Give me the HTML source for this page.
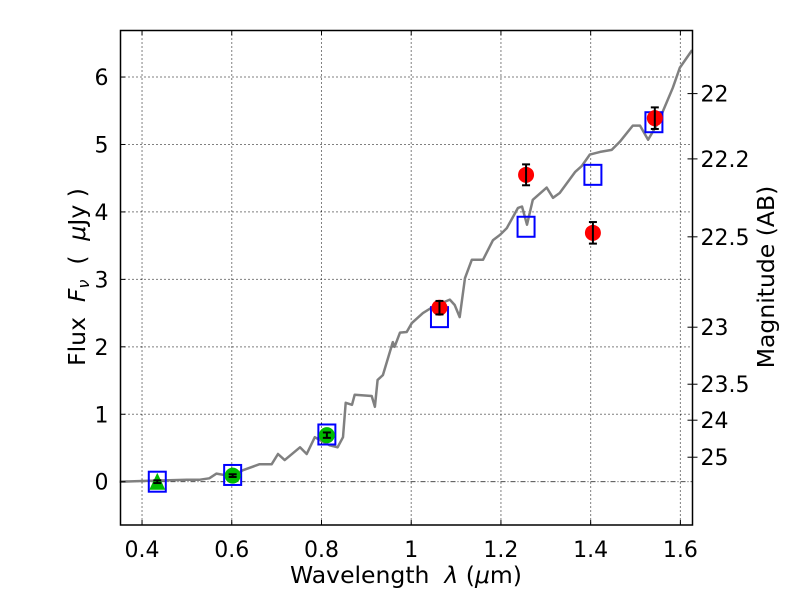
<!DOCTYPE html>
<html><head><meta charset="utf-8"><style>
html,body{margin:0;padding:0;background:#fff;}
svg{display:block;font-family:"DejaVu Sans","Liberation Sans",sans-serif;}
</style></head><body>
<svg id="chart" width="800" height="600" viewBox="0 0 800 600" xmlns="http://www.w3.org/2000/svg">
<rect width="800" height="600" fill="#fff"/>
<g id="grid"></g>
<g id="spec"></g>
<g id="marks"></g>
<g id="axes"></g>
</svg>
<script>
const xTicks=[0.4,0.6,0.8,1.0,1.2,1.4,1.6];
const xTickLabels=["0.4","0.6","0.8","1","1.2","1.4","1.6"];
const yTicks=[0,1,2,3,4,5,6];
const yTickLabels=["0","1","2","3","4","5","6"];
const magTicks=[22,22.2,22.5,23,23.5,24,25];
const magTickLabels=["22","22.2","22.5","23","23.5","24","25"];
const specWave=[0.350,0.40,0.45,0.50,0.529,0.55,0.566,0.600,0.625,0.662,0.689,0.703,0.718,0.752,0.767,0.785,0.796,0.818,0.836,0.848,0.854,0.868,0.874,0.912,0.919,0.925,0.937,0.959,0.963,0.975,0.990,1.001,1.026,1.048,1.086,1.097,1.108,1.120,1.135,1.160,1.182,1.198,1.213,1.238,1.247,1.258,1.271,1.302,1.316,1.331,1.365,1.380,1.398,1.421,1.447,1.465,1.494,1.510,1.528,1.550,1.583,1.599,1.626];
const specFlux=[0.00,0.01,0.02,0.03,0.03,0.05,0.12,0.08,0.17,0.26,0.26,0.41,0.32,0.51,0.41,0.66,0.62,0.54,0.51,0.66,1.17,1.14,1.29,1.27,1.11,1.51,1.58,2.07,2.00,2.21,2.22,2.35,2.50,2.59,2.70,2.62,2.44,3.02,3.29,3.29,3.58,3.66,3.76,4.06,4.08,3.81,4.18,4.36,4.21,4.28,4.59,4.68,4.85,4.89,4.92,5.04,5.28,5.28,5.07,5.32,5.84,6.14,6.40];
const modelWave=[0.434,0.602,0.812,1.063,1.256,1.405,1.541];
const modelFlux=[0.0,0.1,0.7,2.44,3.78,4.55,5.33];
const redWave=[1.063,1.256,1.405,1.543];
const redFlux=[2.58,4.55,3.69,5.39];
const redErr=[0.10,0.155,0.16,0.16];
const greenWave=[0.434,0.602,0.812];
const greenFlux=[0.0,0.09,0.69];
const greenErr=[0.02,0.02,0.04];
const greenShape=["triangle","circle","circle"];

const L=120.5,R=692.5,T=30.5,B=525;
const xmin=0.352,xmax=1.627,ymin=-0.642,ymax=6.69;
function sx(v){return L+(v-xmin)/(xmax-xmin)*(R-L);}
function sy(v){return B-(v-ymin)/(ymax-ymin)*(B-T);}
const NS="http://www.w3.org/2000/svg";
function mk(tag,attrs,parent,text){const e=document.createElementNS(NS,tag);for(const k in attrs)e.setAttribute(k,attrs[k]);if(text!==undefined)e.textContent=text;parent.appendChild(e);return e;}
const grid=document.getElementById('grid'),spec=document.getElementById('spec'),marks=document.getElementById('marks'),axes=document.getElementById('axes');
const FS=22, TS=23.5;

xTicks.forEach((v,i)=>{
  const x=sx(v);
  const g=mk('line',{x1:x,x2:x,y1:T,y2:B,stroke:'#000','stroke-width':1,'stroke-dasharray':'1,3'},grid);
  
  
  mk('line',{x1:x,x2:x,y1:B,y2:B-5,stroke:'#000','stroke-width':1},axes);
  mk('line',{x1:x,x2:x,y1:T,y2:T+5,stroke:'#000','stroke-width':1},axes);
  const t=mk('text',{x:x,y:B+32,'font-size':FS,'text-anchor':'middle',fill:'#000'},axes,xTickLabels[i]);
  
  
});
yTicks.forEach((v,i)=>{
  const y=sy(v);
  if(v!==0){
    const g=mk('line',{x1:L,x2:R,y1:y,y2:y,stroke:'#000','stroke-width':1,'stroke-dasharray':'1,3'},grid);
    
    
  }
  mk('line',{x1:L,x2:L+5,y1:y,y2:y,stroke:'#000','stroke-width':1},axes);
  const t=mk('text',{x:L-12,y:y+8,'font-size':FS,'text-anchor':'end',fill:'#000'},axes,yTickLabels[i]);
  
  
});
const zl=mk('line',{x1:L,x2:R,y1:sy(0),y2:sy(0),stroke:'#333','stroke-width':0.8,'stroke-dasharray':'5,2,1,2'},grid);



magTicks.forEach((m,i)=>{
  const f=Math.pow(10,(23.9-m)/2.5);
  const y=sy(f);
  mk('line',{x1:R,x2:R+5,y1:y,y2:y,stroke:'#000','stroke-width':1},axes);
  mk('line',{x1:R,x2:R-5,y1:y,y2:y,stroke:'#000','stroke-width':1},axes);
  const t=mk('text',{x:R+8,y:y+8,'font-size':FS,'text-anchor':'start',fill:'#000'},axes,magTickLabels[i]);
  
  
});

const pts=specWave.map((w,i)=>sx(w).toFixed(1)+','+sy(specFlux[i]).toFixed(1)).join(' ');
const pl=mk('polyline',{points:pts,fill:'none',stroke:'#808080','stroke-width':2.5,'stroke-linejoin':'round'},spec);



modelWave.forEach((w,i)=>{
  const r=mk('rect',{x:sx(w)-8.5,y:sy(modelFlux[i])-10,width:17,height:20,fill:'none',stroke:'#0000ff','stroke-width':2},marks);
  
  
});
function errbar(x,yv,e){
  const y1=sy(yv+e),y2=sy(yv-e);
  mk('line',{x1:x,x2:x,y1:y1,y2:y2,stroke:'#000','stroke-width':2},marks);
  mk('line',{x1:x-4,x2:x+4,y1:y1,y2:y1,stroke:'#000','stroke-width':2},marks);
  mk('line',{x1:x-4,x2:x+4,y1:y2,y2:y2,stroke:'#000','stroke-width':2},marks);
}
greenWave.forEach((w,i)=>{
  const x=sx(w),y=sy(greenFlux[i]);
  let s;
  if(greenShape[i]==='triangle'){
    s=mk('polygon',{points:`${x},${y-9} ${x-8},${y+8} ${x+8},${y+8}`,fill:'#00bb00'},marks);
  } else {
    s=mk('circle',{cx:x,cy:y,r:8,fill:'#00bb00'},marks);
  }
  
  
  errbar(x,greenFlux[i],greenErr[i]);
});
redWave.forEach((w,i)=>{
  const c=mk('circle',{cx:sx(w),cy:sy(redFlux[i]),r:8,fill:'#ff0000'},marks);
  
  
  errbar(sx(w),redFlux[i],redErr[i]);
});

const fr=mk('rect',{x:L,y:T,width:R-L,height:B-T,fill:'none',stroke:'#000','stroke-width':1.5},axes);



const xl=mk('text',{x:406,y:583,'font-size':TS,'text-anchor':'middle',fill:'#000'},axes);
xl.innerHTML='Wavelength\u00a0\u00a0<tspan font-style="italic">λ</tspan> (<tspan font-style="italic">μ</tspan>m)';


const yl=mk('text',{x:0,y:0,'font-size':TS,'text-anchor':'middle',fill:'#000',transform:'translate(85,277) rotate(-90)'},axes);
yl.innerHTML='Flux\u00a0\u00a0<tspan font-style="italic">F</tspan><tspan font-style="italic" font-size="16" dy="4">ν</tspan><tspan dy="-4">\u00a0\u00a0(\u00a0\u00a0</tspan><tspan font-style="italic">μ</tspan>Jy\u00a0)';


const ml=mk('text',{x:0,y:0,'font-size':TS,'text-anchor':'middle',fill:'#000',transform:'translate(774,277) rotate(-90)'},axes,'Magnitude (AB)');


</script>
</body></html>
